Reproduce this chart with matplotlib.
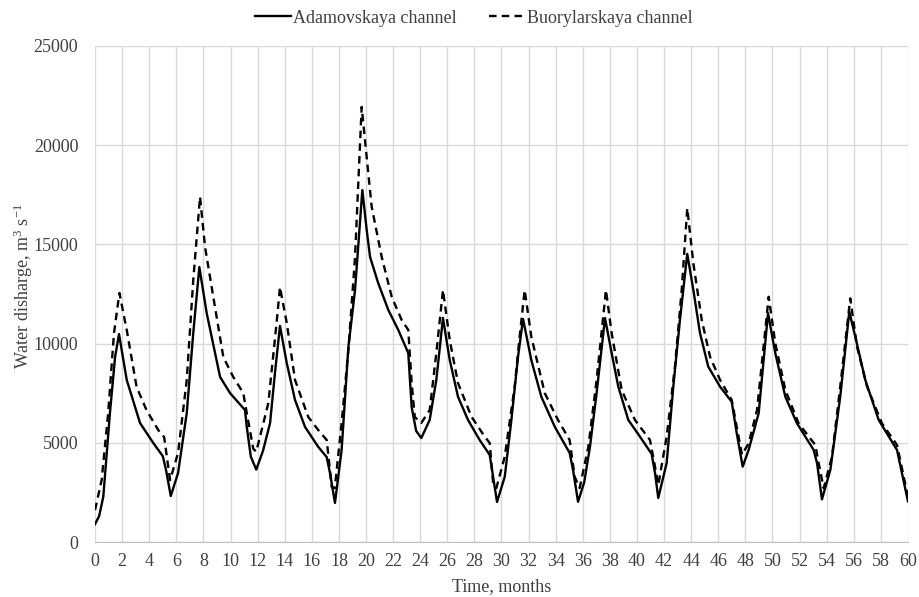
import matplotlib
matplotlib.use('Agg')
import matplotlib.pyplot as plt

plt.rcParams['font.family'] = ['Liberation Serif', 'DejaVu Serif']
plt.rcParams['mathtext.fontset'] = 'custom'
plt.rcParams['mathtext.rm'] = 'Liberation Serif'
plt.rcParams['mathtext.it'] = 'Liberation Serif:italic'

# Adamovskaya channel (solid)
adam_t = [0, 0.3, 0.61, 1.1, 1.48, 1.77, 2.34, 3.32, 4.29, 5.0, 5.24, 5.59,
          6.13, 6.77, 7.25, 7.7, 8.24, 9.23, 9.96, 11.07, 11.2, 11.5, 11.9,
          12.4, 12.92, 13.28, 13.65, 14.15, 14.76, 15.5, 16.48, 17.1, 17.34, 17.71,
          18.2, 18.7, 19.19, 19.73, 20.05, 20.3, 20.9, 21.65, 22.38, 23.12, 23.37, 23.7, 24.08,
          24.7, 25.19, 25.68, 26.18, 26.79, 27.53, 28.39, 29.13, 29.38, 29.67,
          30.24, 30.73, 31.22, 31.59, 32.2, 32.94, 33.93, 35.03, 35.28, 35.65,
          36.1, 36.53, 37.02, 37.64, 38.13, 38.62, 39.36, 40.22, 41.08, 41.33, 41.57,
          42.19, 42.68, 43.17, 43.71, 44.16, 44.65, 45.26, 46.13, 46.99, 47.36, 47.8,
          48.24, 48.98, 49.67, 50.21, 50.95, 51.81, 53.04, 53.29, 53.65,
          54.27, 55.0, 55.67, 56.11, 56.85, 57.84, 59.19, 60.0]
adam_q = [900, 1300, 2280, 6500, 9320, 10480, 8170, 6000, 5000, 4330, 3630, 2320,
          3480, 6500, 10530, 13860, 11540, 8320, 7510, 6650, 5800, 4300, 3650,
          4600, 6000, 8520, 10890, 9020, 7160, 5800, 4790, 4280, 3480, 1970,
          4640, 9830, 12700, 17740, 15730, 14360, 13050, 11690, 10690, 9520, 6800, 5600, 5240,
          6150, 8170, 11290, 9170, 7320, 6150, 5140, 4390, 3290, 2020,
          3290, 6150, 9340, 11240, 9170, 7320, 5810, 4490, 3630, 2030,
          3000, 4800, 7510, 11290, 9520, 7830, 6150, 5310, 4440, 3480, 2220,
          3980, 7830, 11190, 14520, 12700, 10530, 8840, 7830, 7070, 5490, 3800,
          4640, 6490, 11530, 9510, 7320, 5980, 4640, 3970, 2150,
          3630, 7320, 11610, 10350, 8170, 6150, 4640, 2050]

# Buorylarskaya channel (dashed)
buor_t = [0, 0.49, 0.97, 1.4, 1.8, 2.34, 3.07, 3.8, 4.67, 5.1, 5.54,
          6.13, 6.77, 7.25, 7.75, 8.12, 8.73, 9.47, 10.2, 10.94, 11.2, 11.68, 11.9,
          12.79, 13.4, 13.65, 14.15, 14.76, 15.74, 16.48, 17.1, 17.47, 17.7,
          18.2, 18.7, 19.19, 19.68, 20.05, 20.42, 21.16, 21.9, 22.63, 23.12, 23.37, 23.6, 24.08,
          24.7, 25.19, 25.68, 26.18, 26.79, 27.78, 28.76, 29.13, 29.38, 29.62,
          30.24, 30.97, 31.34, 31.71, 32.2, 33.19, 34.17, 35.03, 35.4, 35.77,
          36.41, 37.02, 37.71, 38.13, 38.87, 39.85, 40.96, 41.33, 41.57,
          42.19, 42.8, 43.3, 43.71, 44.16, 44.78, 45.39, 46.13, 46.99, 47.36, 47.75,
          48.24, 48.86, 49.72, 50.21, 50.95, 51.93, 53.16, 53.41, 53.78,
          54.39, 55.0, 55.74, 56.24, 56.98, 58.08, 59.19, 60.0]
buor_q = [1610, 3125, 6500, 10530, 12550, 10690, 7810, 6650, 5640, 5290, 3125,
          4490, 8170, 13200, 17400, 14870, 12350, 9320, 8320, 7510, 6500, 4700, 4550,
          7000, 11040, 12850, 11040, 8170, 6300, 5640, 5140, 2770, 2720,
          6000, 9680, 14360, 21930, 19400, 16890, 14360, 12350, 11190, 10690, 8010, 6300, 6000,
          6650, 9520, 12700, 10180, 8010, 6320, 5310, 4990, 2970, 2720,
          4300, 7830, 10350, 12700, 10350, 7510, 6150, 5140, 3290, 2720,
          4800, 8170, 12700, 10530, 7660, 6150, 5140, 3800, 2870,
          5310, 8840, 12700, 16820, 14050, 11190, 9340, 8170, 7160, 5810, 4400,
          4970, 6650, 12360, 10010, 7660, 5980, 4890, 3970, 2710,
          4300, 7830, 12280, 9840, 7830, 5980, 4890, 2280]

fig = plt.figure(figsize=(9.19, 5.97), dpi=100)
ax = fig.add_axes([0.1034, 0.0921, 0.8846, 0.8309])

ax.plot(adam_t, adam_q, color='black', lw=1.7, label='Adamovskaya channel', zorder=3)
ax.plot(buor_t, buor_q, color='black', lw=1.7, ls=(0, (3.2, 2.2)),
        label='Buorylarskaya channel', zorder=3)

ax.set_xlim(0, 60)
ax.set_ylim(0, 25000)
ax.set_xticks(range(0, 61, 2))
ax.set_yticks(range(0, 25001, 5000))
ax.grid(True, color='#d9d9d9', lw=1.0, zorder=0)
ax.set_axisbelow(True)
for s in ['top', 'right', 'left']:
    ax.spines[s].set_visible(False)
ax.spines['bottom'].set_color('#bfbfbf')
ax.tick_params(length=0, labelsize=13, colors='#404040', pad=8)
ax.tick_params(axis='y', pad=12)

ax.set_xlabel('Time, months', fontsize=13, color='#404040', labelpad=6)
ax.set_ylabel('Water disharge, m$^3$ s$^{-1}$', fontsize=13, color='#404040')
ax.yaxis.set_label_coords(-0.074, 0.515)

ax.legend(loc='lower center', bbox_to_anchor=(0.466, 1.006), ncol=2, frameon=False,
          fontsize=13, handlelength=2.0, handletextpad=0.15, columnspacing=1.75,
          labelcolor='#404040')

fig.savefig('out.png', dpi=100)
